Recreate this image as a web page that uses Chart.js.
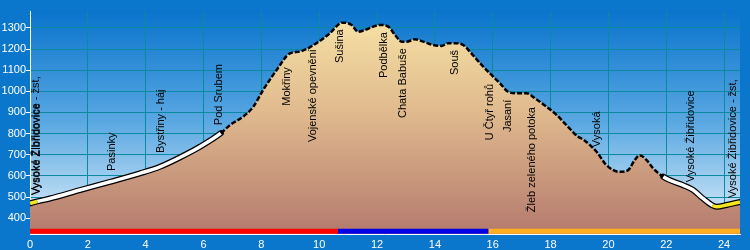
<!DOCTYPE html>
<html><head><meta charset="utf-8">
<script src="https://cdn.jsdelivr.net/npm/chart.js@4"></script>
<style>html,body{margin:0;padding:0;background:#0a76cc;}canvas{display:block;}</style>
</head><body>
<canvas id="c" width="750" height="250"></canvas>
<script>
// ---- data ----
const distKm = [0, 0.25, 0.69, 1.73, 2.77, 3.80, 4.49, 5.18, 5.88, 6.6, 6.91, 7.37, 7.72, 8.06, 8.53, 8.99, 9.33, 9.91, 10.37, 10.72, 10.83, 11.12, 11.35, 11.52, 11.87, 12.10, 12.39, 12.62, 12.85, 13.02, 13.31, 13.60, 13.94, 14.23, 14.46, 14.69, 14.98, 15.21, 15.56, 15.90, 16.25, 16.53, 16.82, 17.17, 17.46, 17.86, 18.21, 18.55, 18.95, 19.13, 19.59, 19.93, 20.39, 20.68, 20.91, 21.08, 21.32, 21.55, 21.9, 22.12, 22.58, 22.93, 23.27, 23.6, 23.74, 24.08, 24.55];
const elevM  = [470, 479, 493, 533, 572, 612, 643, 687, 738, 802, 840, 880, 927, 1006, 1101, 1180, 1188, 1228, 1275, 1322, 1325, 1314, 1282, 1287, 1306, 1314, 1306, 1267, 1235, 1235, 1246, 1235, 1219, 1215, 1228, 1228, 1219, 1188, 1133, 1085, 1038, 998, 991, 991, 967, 927, 888, 840, 785, 772, 714, 651, 619, 627, 675, 698, 675, 635, 596, 580, 556, 533, 493, 460, 454, 462, 477];
const xTicks = [0, 2, 4, 6, 8, 10, 12, 14, 16, 18, 20, 22, 24];
const yTicks = [400, 500, 600, 700, 800, 900, 1000, 1100, 1200, 1300];
const placeNames = ["Vysoké Žibřidovice - žst,", "Vysoké Žibřidovice", "Pasinky", "Bystřiny - háj", "Pod Srubem", "Mokřiny", "Vojenské opevnění", "Sušina", "Podbělka", "Chata Babuše", "Souš", "U Čtyř rohů", "Jasaní", "Žleb zeleného potoka", "Vysoká", "Vysoké Žibřidovice", "Vysoké Žibřidovice - žst,"];
const placeKm    = [0.21, 0.25, 2.83, 4.53, 6.53, 8.90, 9.78, 10.72, 12.24, 12.89, 14.69, 15.90, 16.52, 17.35, 19.60, 22.85, 24.30];
const placeBaseM = [509, 509, 623, 708, 840, 932, 760, 1134, 1063, 874, 1077, 769, 807, 428, 736, 570, 495];
const lineStyleBreaksKm = [0.25, 6.6, 21.9, 23.6];   // yellow | white | dashed | white | yellow
const routeBreaksKm = [0, 10.65, 15.85, 24.55];      // red | blue | orange
const routeBarM = 338;

const FONT = '"Liberation Sans", Arial, sans-serif';
const pts = distKm.map((d, i) => ({x: d, y: elevM[i]}));

function styleAt(x) {
  if (x < lineStyleBreaksKm[0]) return 'yellow';
  if (x < lineStyleBreaksKm[1]) return 'white';
  if (x < lineStyleBreaksKm[2]) return 'dash';
  if (x < lineStyleBreaksKm[3]) return 'white';
  return 'yellow';
}

function fillGrad(ctx) {
  const ca = ctx.chart.chartArea;
  if (!ca) return '#e0c090';
  const g = ctx.chart.ctx.createLinearGradient(0, ca.top, 0, ca.bottom);
  g.addColorStop(0, '#f8e4a6');
  g.addColorStop(0.45, '#e0ba8e');
  g.addColorStop(1, '#b47a6d');
  return g;
}

const bgPlugin = {
  id: 'bg',
  beforeDraw(chart) {
    const {ctx, chartArea: ca} = chart;
    ctx.save();
    ctx.fillStyle = '#0a76cc';
    ctx.fillRect(0, 0, chart.width, chart.height);
    const g = ctx.createLinearGradient(0, ca.top, 0, ca.bottom);
    g.addColorStop(0, '#0a74cc');
    g.addColorStop(0.5, '#5aa8e2');
    g.addColorStop(1, '#e4f2fb');
    ctx.fillStyle = g;
    ctx.fillRect(ca.left, ca.top, ca.right - ca.left, ca.bottom - ca.top);
    ctx.restore();
  }
};

const labelPlugin = {
  id: 'placeLabels',
  afterDatasetsDraw(chart) {
    const {ctx, scales: {x, y}} = chart;
    ctx.save();
    ctx.font = '11px ' + FONT;
    ctx.fillStyle = '#000';
    ctx.textAlign = 'left';
    ctx.textBaseline = 'middle';
    placeNames.forEach((n, i) => {
      const px = x.getPixelForValue(placeKm[i]);
      const py = y.getPixelForValue(placeBaseM[i]);
      ctx.save();
      ctx.translate(px, py);
      ctx.rotate(-Math.PI / 2);
      ctx.fillText(n, 0, 0);
      ctx.restore();
    });
    ctx.restore();
  }
};

const routeColors = ['#ff0000', '#0000e6', '#ffb020'];
const routeSets = routeColors.map((c, i) => ({
  data: [{x: routeBreaksKm[i], y: routeBarM}, {x: routeBreaksKm[i + 1], y: routeBarM}],
  borderColor: c, borderWidth: 5, borderCapStyle: 'butt', pointRadius: 0, fill: false, order: 4
}));

new Chart(document.getElementById('c'), {
  type: 'line',
  data: {
    datasets: [
      { data: pts, borderWidth: 0, borderColor: 'rgba(0,0,0,0)', backgroundColor: fillGrad,
        fill: 'start', pointRadius: 0, cubicInterpolationMode: 'monotone', order: 5 },
      ...routeSets,
      { data: pts, borderWidth: 6, pointRadius: 0, fill: false, cubicInterpolationMode: 'monotone', order: 3,
        borderColor: '#000', borderCapStyle: 'round',
        segment: { borderColor: c => styleAt(c.p0.parsed.x) === 'dash' ? 'rgba(0,0,0,0)' : '#000' } },
      { data: pts, borderWidth: 3.5, pointRadius: 0, fill: false, cubicInterpolationMode: 'monotone', order: 2,
        borderColor: '#fff', borderCapStyle: 'butt',
        segment: {
          borderColor: c => { const s = styleAt(c.p0.parsed.x); return s === 'dash' ? '#000' : (s === 'yellow' ? '#f5e61e' : '#ffffff'); },
          borderWidth: c => styleAt(c.p0.parsed.x) === 'dash' ? 2.5 : 3.5,
          borderDash: c => styleAt(c.p0.parsed.x) === 'dash' ? [5, 2] : []
        } }
    ]
  },
  options: {
    responsive: false,
    animation: false,
    devicePixelRatio: 1,
    layout: { padding: { left: 0, right: 10, top: 11, bottom: 0 } },
    plugins: { legend: { display: false }, tooltip: { enabled: false } },
    scales: {
      x: {
        type: 'linear', min: 0, max: 24.55,
        afterBuildTicks: s => { s.ticks = xTicks.map(v => ({value: v})); },
        afterFit: s => { s.height = 16; },
        grid: { color: '#0a8aa0', drawTicks: false, lineWidth: 1 },
        border: { color: '#ffffff', width: 1 },
        ticks: { color: '#ffffff', font: { family: FONT, size: 11 }, padding: 4, maxRotation: 0, autoSkip: false }
      },
      y: {
        type: 'linear', min: 325, max: 1380,
        afterBuildTicks: s => { s.ticks = yTicks.map(v => ({value: v})); },
        afterFit: s => { s.width = 30; },
        grid: { color: '#0a8aa0', tickColor: '#ffffff', tickLength: 4, lineWidth: 1 },
        border: { color: '#ffffff', width: 1 },
        ticks: { color: '#ffffff', font: { family: FONT, size: 11 }, padding: 0, autoSkip: false, callback: v => String(v) }
      }
    }
  },
  plugins: [bgPlugin, labelPlugin]
});
</script>
</body></html>
